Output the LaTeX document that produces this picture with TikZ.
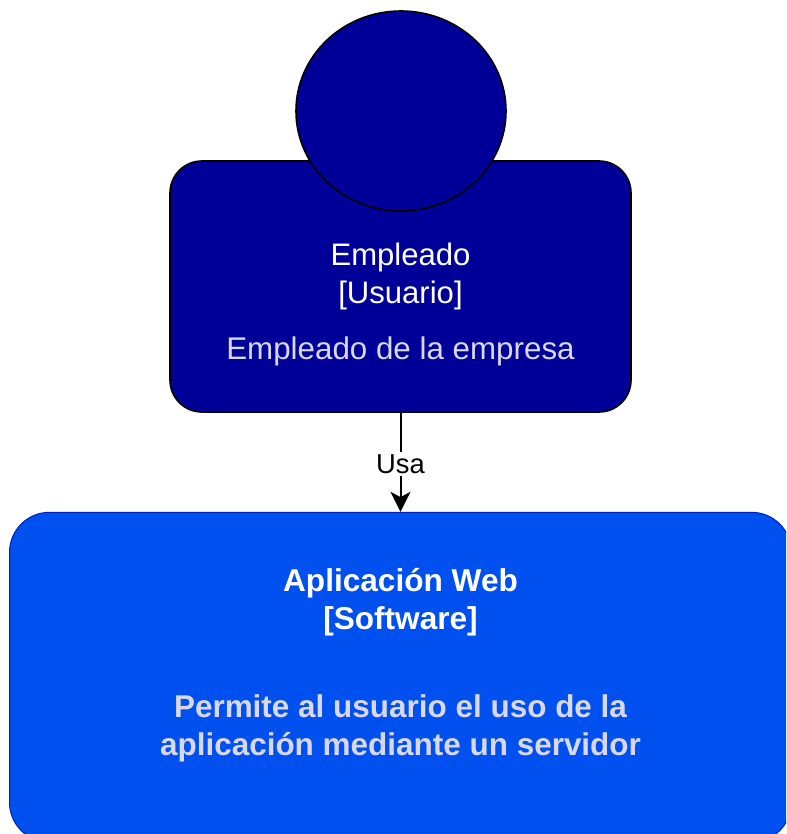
\documentclass[tikz,border=0pt]{standalone}
\usepackage{fontspec}
\setmainfont{Liberation Sans}
\usetikzlibrary{positioning,shapes.geometric,arrows.meta}
\definecolor{navybox}{HTML}{000099}
\definecolor{cobaltbox}{HTML}{0050EF}
\definecolor{cobaltline}{HTML}{001DBC}
\definecolor{softtext}{HTML}{D8D8E8}
\tikzset{
  userbox/.style = {draw = black, fill = navybox, shape = rectangle, rounded corners = 24pt, line width = 1.2pt, minimum width = 345.75pt, minimum height = 188.25pt},
  userhead/.style = {draw = black, fill = navybox, shape = ellipse, line width = 1.2pt, minimum width = 157.5pt, minimum height = 150pt, inner sep = 0pt},
  softbox/.style = {draw = cobaltline, fill = cobaltbox, shape = rectangle, rounded corners = 30pt, line width = .75pt, minimum width = 586.5pt, minimum height = 247.5pt},
  usertitle/.style = {text = white, align = center, font = \fontsize{23.3}{28.5}\selectfont},
  softtitle/.style = {text = white, align = center, font = \fontsize{23.7}{28.5}\selectfont\bfseries},
  userdesc/.style = {text = softtext, align = center, font = \fontsize{23.5}{28.5}\selectfont},
  softdesc/.style = {text = softtext, align = center, font = \fontsize{23.6}{28.5}\selectfont\bfseries},
  uselabel/.style = {fill = white, text = black, inner sep = 2pt, font = \fontsize{20.5}{24}\selectfont}
}
\begin{document}
\begin{tikzpicture}[x = .75pt, y = -.75pt]
\useasboundingbox (0,0) rectangle (786,834);
\clip (0,0) rectangle (786,834);
\node[userbox] (empleado) at (400.5,286.5) {};
\node[userhead] (cabeza) at (401,111) {};
\node[softbox, below = 74.25pt of empleado.south, anchor = north] (aplicacion) {};
\node[usertitle] (empleadotitle) at (400.5,276) {Empleado\\{[Usuario]}};
\node[userdesc, below = 13.25pt of empleadotitle] (empleadodesc) {Empleado de la empresa};
\node[softtitle] (aplicaciontitle) at (400.5,602) {Aplicación Web\\{[Software]}};
\node[softdesc, below = 37pt of aplicaciontitle] (aplicaciondesc) {Permite al usuario el uso de la\\aplicación mediante un servidor};
\draw[line width = 1.5pt, -{Stealth[length = 15pt, width = 15pt, inset = 4pt]}] (empleado.south) -- (aplicacion.north) node[uselabel, pos = .52] (usa) {Usa};
\end{tikzpicture}
\end{document}
